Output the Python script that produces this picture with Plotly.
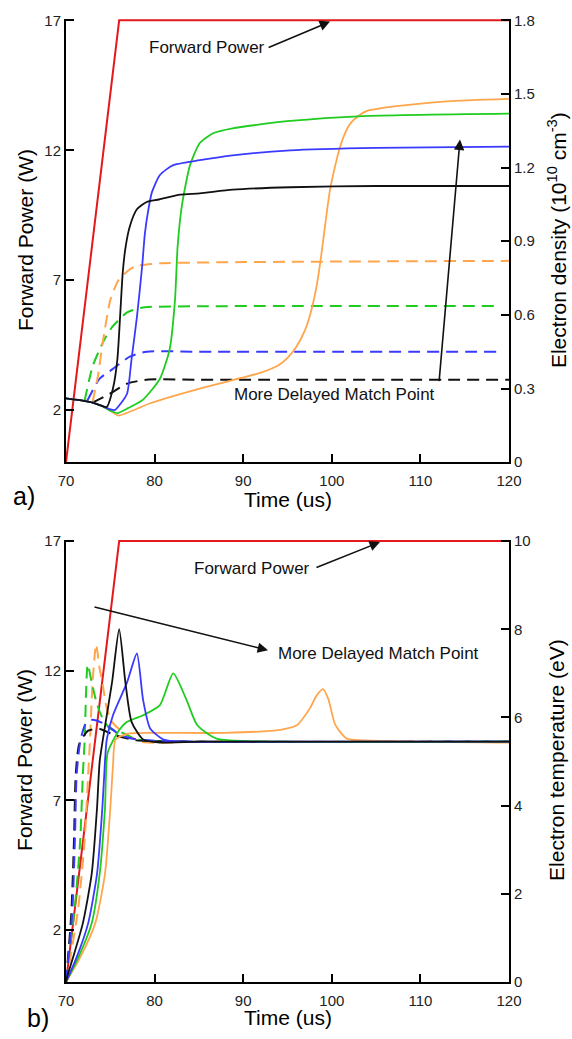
import plotly.graph_objects as go

# ---------------- data ----------------
# Forward power (W), both panels
fp_t = [70, 76, 120]
fp_w = [0, 17, 17]

# Panel a) electron density (1e10 cm^-3), solid curves
a_blk_t = [70, 72, 73, 74, 74.6, 75.3, 75.8, 76.1, 76.4, 76.7, 77.2, 78.0, 79.1, 80.5, 82.9, 85.1, 88.8, 95.3, 105, 120]
a_blk_n = [0.26, 0.25, 0.243, 0.23, 0.225, 0.30, 0.42, 0.59, 0.77, 0.87, 0.96, 1.03, 1.06, 1.07, 1.09, 1.095, 1.11, 1.12, 1.125, 1.125]
a_blu_t = [70, 72, 73, 74, 75, 75.5, 76.2, 76.9, 77.4, 78.0, 78.6, 78.9, 79.3, 79.7, 80.6, 82.1, 85.1, 88.8, 95.3, 105, 120]
a_blu_n = [0.26, 0.25, 0.243, 0.23, 0.215, 0.212, 0.24, 0.28, 0.42, 0.59, 0.80, 0.93, 1.03, 1.10, 1.17, 1.21, 1.23, 1.25, 1.27, 1.28, 1.285]
a_grn_t = [70, 72, 73, 74, 75, 75.8, 77, 78.7, 80.6, 81.7, 82.3, 82.6, 83.1, 84.0, 85.1, 86.6, 88.8, 95.3, 103.5, 120]
a_grn_n = [0.26, 0.25, 0.243, 0.23, 0.21, 0.20, 0.22, 0.255, 0.34, 0.46, 0.66, 0.88, 1.05, 1.21, 1.30, 1.34, 1.36, 1.39, 1.41, 1.42]
a_org_t = [70, 72, 73, 74, 75, 75.9, 79.5, 85.1, 90, 92, 94, 95, 96, 97, 97.7, 98.3, 98.8, 99.3, 99.8, 100.4, 100.9, 101.5, 102.1, 103, 103.9, 107.3, 113, 120]
a_org_n = [0.26, 0.25, 0.243, 0.23, 0.21, 0.19, 0.24, 0.30, 0.345, 0.365, 0.395, 0.425, 0.47, 0.54, 0.62, 0.72, 0.84, 0.98, 1.11, 1.21, 1.28, 1.34, 1.38, 1.41, 1.43, 1.45, 1.47, 1.48]

# Panel a) dashed curves
a_org_d_t = [73.0, 73.6, 74.2, 75.0, 75.9, 77.0, 78.0, 80.6, 90, 120]
a_org_d_n = [0.245, 0.35, 0.50, 0.66, 0.74, 0.78, 0.80, 0.81, 0.815, 0.82]
a_grn_d_t = [72.1, 73.0, 74.2, 75.2, 76.9, 78.7, 85, 119]
a_grn_d_n = [0.25, 0.39, 0.49, 0.55, 0.61, 0.63, 0.635, 0.636]
a_blu_d_t = [72.4, 73.8, 75.3, 77.2, 79.1, 85, 119]
a_blu_d_n = [0.25, 0.34, 0.38, 0.43, 0.45, 0.45, 0.45]
a_blk_d_t = [73.0, 75.0, 76.9, 79.1, 85, 120]
a_blk_d_n = [0.243, 0.28, 0.32, 0.336, 0.336, 0.336]

# Panel b) electron temperature (eV), solid curves
b_blk_t = [70, 70.1, 70.8, 71.9, 72.9, 73.5, 73.8, 74.4, 75.2, 76.0, 76.7, 77.4, 78.7, 80.6, 85, 120]
b_blk_e = [0, 0.1, 0.56, 1.33, 2.45, 3.94, 5.0, 5.8, 6.8, 8.0, 6.8, 5.9, 5.5, 5.43, 5.45, 5.45]
b_blu_t = [70, 71.2, 72.5, 73.5, 74.1, 74.4, 74.6, 75.3, 76.9, 78.0, 78.7, 79.5, 81.0, 83.2, 90, 120]
b_blu_e = [0, 0.56, 1.33, 2.45, 3.94, 5.0, 5.5, 6.05, 6.8, 7.45, 6.4, 5.75, 5.5, 5.45, 5.45, 5.45]
b_grn_t = [70, 71.4, 72.9, 73.8, 74.4, 74.7, 75.9, 76.9, 78.7, 80.6, 82.1, 83.6, 84.8, 87.0, 95, 120]
b_grn_e = [0, 0.56, 1.33, 2.45, 3.94, 5.2, 5.68, 5.9, 6.05, 6.28, 7.0, 6.4, 5.83, 5.52, 5.45, 5.45]
b_org_t = [70, 71.6, 73.3, 74.4, 75.0, 75.3, 75.6, 76.9, 80, 88, 94.2, 96.1, 97.5, 98.3, 99.0, 99.6, 100.4, 101.7, 105.4, 120]
b_org_e = [0, 0.56, 1.33, 2.45, 3.94, 4.9, 5.5, 5.63, 5.65, 5.65, 5.72, 5.83, 6.2, 6.5, 6.64, 6.42, 5.83, 5.52, 5.47, 5.43]

# Panel b) dashed curves
b_blu_d_t = [70, 70.7, 71.0, 71.2, 71.6, 72.2, 73.0, 74.6, 76.1, 78.0, 85, 120]
b_blu_d_e = [0, 1.55, 3.2, 4.7, 5.45, 5.85, 5.95, 5.83, 5.6, 5.5, 5.45, 5.45]
b_blk_d_t = [70, 70.6, 70.9, 71.1, 71.5, 72.5, 73.8, 75.5, 78, 85, 120]
b_blk_d_e = [0, 1.55, 3.2, 4.7, 5.4, 5.7, 5.74, 5.6, 5.48, 5.45, 5.45]
b_grn_d_t = [70, 70.3, 71.0, 71.6, 71.9, 72.1, 72.45, 72.9, 73.5, 74.2, 75.0, 76.4, 78, 85, 120]
b_grn_d_e = [0, 0.56, 1.7, 3.2, 4.7, 5.45, 7.2, 6.8, 6.3, 5.95, 5.74, 5.65, 5.5, 5.45, 5.45]
b_org_d_t = [70, 70.5, 71.4, 72.1, 72.5, 72.7, 73.0, 73.4, 73.8, 74.1, 74.6, 75.2, 76.1, 78.4, 85, 120]
b_org_d_e = [0, 0.56, 1.7, 3.2, 4.7, 5.45, 6.8, 7.66, 7.1, 6.8, 6.2, 5.9, 5.72, 5.45, 5.45, 5.45]

x_ticks = [70, 80, 90, 100, 110, 120]
p_ticks = [2, 7, 12, 17]
n_ticks = [0, 0.3, 0.6, 0.9, 1.2, 1.5, 1.8]
n_text = ["0", "0.3", "0.6", "0.9", "1.2", "1.5", "1.8"]
e_ticks = [0, 2, 4, 6, 8, 10]

# ---------------- style ----------------
RED = "#e3191c"
BLU = "#3a3aff"
GRN = "#1fcc1f"
ORG = "#ffa64d"
BLK = "#111111"
FONT = "Liberation Sans, Arial, sans-serif"
DASH = "12px,7px"

fig = go.Figure()

def add(x, y, color, xa, ya, dash=None, width=1.8, shape="spline"):
    fig.add_trace(go.Scatter(
        x=x, y=y, mode="lines", xaxis=xa, yaxis=ya, showlegend=False,
        line=dict(color=color, width=width, dash=dash, shape=shape, smoothing=0.6),
        hoverinfo="skip"))

# panel a
for t, n, c in [(a_blk_d_t, a_blk_d_n, BLK), (a_blu_d_t, a_blu_d_n, BLU),
                (a_grn_d_t, a_grn_d_n, GRN), (a_org_d_t, a_org_d_n, ORG)]:
    add(t, n, c, "x", "y2", dash=DASH, width=2)
for t, n, c in [(a_org_t, a_org_n, ORG), (a_grn_t, a_grn_n, GRN),
                (a_blu_t, a_blu_n, BLU), (a_blk_t, a_blk_n, BLK)]:
    add(t, n, c, "x", "y2")
add(fp_t, fp_w, RED, "x", "y", width=2, shape="linear")

# panel b
for t, e, c in [(b_org_d_t, b_org_d_e, ORG), (b_grn_d_t, b_grn_d_e, GRN),
                (b_blk_d_t, b_blk_d_e, BLK), (b_blu_d_t, b_blu_d_e, BLU)]:
    add(t, e, c, "x2", "y4", dash=DASH, width=2)
for t, e, c in [(b_org_t, b_org_e, ORG), (b_grn_t, b_grn_e, GRN),
                (b_blu_t, b_blu_e, BLU), (b_blk_t, b_blk_e, BLK)]:
    add(t, e, c, "x2", "y4")
add(fp_t, fp_w, RED, "x2", "y3", width=2, shape="linear")

TOP = 17.05
axis_common = dict(showline=True, linewidth=2, linecolor="black", ticks="inside",
                   ticklen=8, tickwidth=2, tickcolor="black", showgrid=False,
                   zeroline=False, tickfont=dict(family=FONT, size=15, color="#222"))
x_extra = dict(ticklabelstandoff=4)

fig.update_layout(
    width=572, height=1039,
    margin=dict(l=66, r=63, t=15, b=57),
    paper_bgcolor="white", plot_bgcolor="white",
    font=dict(family=FONT, color="black"),
    xaxis=dict(domain=[0, 1], anchor="y", range=[70, 120], tickvals=x_ticks, **x_extra, **axis_common),
    yaxis=dict(domain=[0.5398, 1.0], anchor="x", range=[0, TOP], tickvals=p_ticks, **axis_common),
    yaxis2=dict(overlaying="y", side="right", anchor="x", range=[0, 1.8 * TOP / 17],
                tickvals=n_ticks, ticktext=n_text, **axis_common),
    xaxis2=dict(domain=[0, 1], anchor="y3", range=[70, 120], tickvals=x_ticks, **x_extra, **axis_common),
    yaxis3=dict(domain=[0, 0.4592], anchor="x2", range=[0, TOP], tickvals=p_ticks, **axis_common),
    yaxis4=dict(overlaying="y3", side="right", anchor="x2", range=[0, 10 * TOP / 17],
                tickvals=e_ticks, **axis_common),
)

def px2x(px):
    return (px - 66) / 443.0

def py2y(py):
    return (982 - py) / 967.0

ann = []
def title(text, px, py, angle=0, size=21):
    ann.append(dict(text=text, x=px2x(px), y=py2y(py), xref="paper", yref="paper",
                    showarrow=False, textangle=angle, xanchor="center", yanchor="middle",
                    font=dict(family=FONT, size=size, color="black")))

title("Forward Power (W)", 25, 237, -90)
title("Forward Power (W)", 25, 759, -90)
title("Electron density (10<sup>10</sup> cm<sup>-3</sup>)", 557, 237, -90)
title("Electron temperature (eV)", 557, 759, -90)
title("Time (us)", 288, 497)
title("Time (us)", 288, 1018)
title("a)", 24, 494, size=25)
title("b)", 38, 1018, size=25)

def label(text, x, y, xr, yr):
    ann.append(dict(text=text, x=x, y=y, xref=xr, yref=yr, showarrow=False,
                    xanchor="center", yanchor="middle",
                    font=dict(family=FONT, size=17, color="#111")))

def arrow(x0, y0, x1, y1, xr, yr):
    ann.append(dict(text="", x=x1, y=y1, ax=x0, ay=y0, xref=xr, yref=yr,
                    axref=xr, ayref=yr, showarrow=True, arrowhead=2, arrowsize=1.3,
                    arrowwidth=1.6, arrowcolor="#111"))

# panel a annotations
label("Forward Power", 85.9, 15.97, "x", "y")
arrow(92.7, 15.93, 99.8, 16.95, "x", "y")
label("More Delayed Match Point", 100.3, 2.6, "x", "y")
arrow(112.1, 3.06, 114.47, 12.41, "x", "y")

# panel b annotations
label("Forward Power", 91.0, 15.93, "x2", "y3")
arrow(98.1, 15.96, 105.44, 16.96, "x2", "y3")
label("More Delayed Match Point", 105.27, 12.67, "x2", "y3")
arrow(73.05, 14.47, 92.8, 12.79, "x2", "y3")

fig.update_layout(annotations=ann)
fig.write_html("out.html")
